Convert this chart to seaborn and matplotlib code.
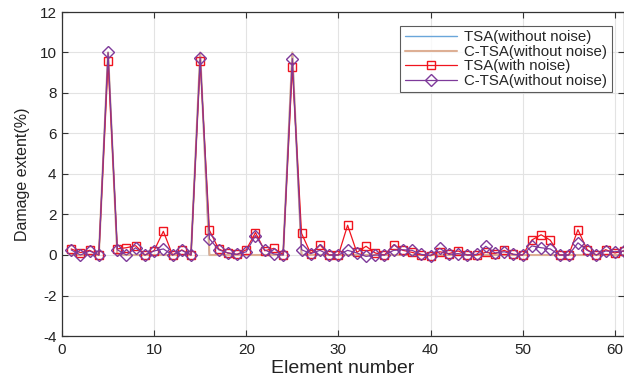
import numpy as np
import pandas as pd
import matplotlib
matplotlib.use("Agg")
import matplotlib.pyplot as plt
import seaborn as sns

elements = list(range(1, 62))

tsa_clean = [0, 0, 0, 0, 10, 0, 0, 0, 0, 0,
             0, 0, 0, 0, 10, 0, 0, 0, 0, 0,
             0, 0, 0, 0, 10, 0, 0, 0, 0, 0,
             0, 0, 0, 0, 0, 0, 0, 0, 0, 0,
             0, 0, 0, 0, 0, 0, 0, 0, 0, 0,
             0, 0, 0, 0, 0, 0, 0, 0, 0, 0, 0]
ctsa_clean = list(tsa_clean)

tsa_noise = [0.30, 0.12, 0.23, 0.00, 9.60, 0.30, 0.36, 0.46, 0.00, 0.22,
             1.17, 0.00, 0.25, 0.00, 9.60, 1.22, 0.30, 0.10, 0.03, 0.26,
             1.11, 0.21, 0.33, 0.02, 9.30, 1.07, 0.07, 0.50, 0.00, 0.00,
             1.47, 0.13, 0.43, 0.10, 0.00, 0.50, 0.23, 0.13, 0.00, -0.03,
             0.16, 0.07, 0.20, 0.00, 0.00, 0.13, 0.07, 0.23, 0.03, 0.00,
             0.74, 1.00, 0.73, 0.00, 0.00, 1.25, 0.26, 0.00, 0.26, 0.10, 0.20]

ctsa_noise = [0.25, 0.00, 0.20, 0.00, 10.00, 0.26, 0.00, 0.36, 0.00, 0.20,
              0.30, 0.00, 0.23, 0.00, 9.75, 0.80, 0.26, 0.10, 0.03, 0.16,
              0.96, 0.25, 0.05, 0.00, 9.70, 0.26, 0.07, 0.23, 0.00, 0.00,
              0.23, 0.10, -0.07, 0.00, 0.00, 0.23, 0.26, 0.23, 0.03, -0.03,
              0.33, 0.03, 0.07, 0.00, 0.03, 0.43, 0.10, 0.16, 0.03, 0.00,
              0.45, 0.36, 0.30, 0.00, 0.00, 0.60, 0.23, 0.00, 0.20, 0.16, 0.20]

labels = ["TSA(without noise)", "C-TSA(without noise)", "TSA(with noise)", "C-TSA(without noise)"]

sns.set_style("whitegrid")
plt.rcParams['font.family'] = ['Liberation Sans', 'DejaVu Sans']
plt.rcParams['axes.unicode_minus'] = False

fig = plt.figure(figsize=(6.24, 3.78), dpi=100)
ax = fig.add_axes([62/624, 1 - 336/378, 1 - 62/624, (336 - 12)/378])

df = pd.DataFrame({"x": elements, "a": tsa_clean, "b": ctsa_clean,
                   "c": tsa_noise, "d": ctsa_noise})

sns.lineplot(data=df, x="x", y="a", ax=ax, color="#6AA6DA", lw=1.0, label=labels[0])
sns.lineplot(data=df, x="x", y="b", ax=ax, color="#DDAF94", lw=1.5, label=labels[1])
sns.lineplot(data=df, x="x", y="c", ax=ax, color="#F0141E", lw=0.9, marker="s",
             markersize=6.2, markerfacecolor="none", markeredgecolor="#F0141E",
             markeredgewidth=1.0, label=labels[2])
sns.lineplot(data=df, x="x", y="d", ax=ax, color="#7E3A9A", lw=0.9, marker="D",
             markersize=6.2, markerfacecolor="none", markeredgecolor="#7E3A9A",
             markeredgewidth=1.0, label=labels[3])

ax.set_xlim(0, 61)
ax.set_ylim(-4, 12)
ax.set_xticks(range(0, 61, 10))
ax.set_yticks(range(-4, 13, 2))
ax.grid(True, color="#E3E3E3", lw=0.8)
for s in ax.spines.values():
    s.set_color("#333333")
    s.set_linewidth(0.9)
ax.tick_params(axis="both", direction="in", length=4, width=0.8, color="#333333",
               labelsize=11, labelcolor="#222222",
               top=True, right=True, bottom=True, left=True)
ax.tick_params(axis="x", pad=5)
ax.tick_params(axis="y", pad=4)
ax.set_xlabel("Element number", fontsize=14, labelpad=2, color="#222222")
ax.set_ylabel("Damage extent(%)", fontsize=11.5, labelpad=7, color="#222222")

leg = ax.legend(loc="upper right", bbox_to_anchor=(1 - 12/562, 1 - 14/324), fontsize=10.8,
                frameon=True, fancybox=False, edgecolor="#333333",
                handlelength=3.5, borderpad=0.3, labelspacing=0.03,
                handletextpad=0.5, borderaxespad=0.0)
leg.get_frame().set_linewidth(0.8)

fig.savefig("out.png", dpi=100)
